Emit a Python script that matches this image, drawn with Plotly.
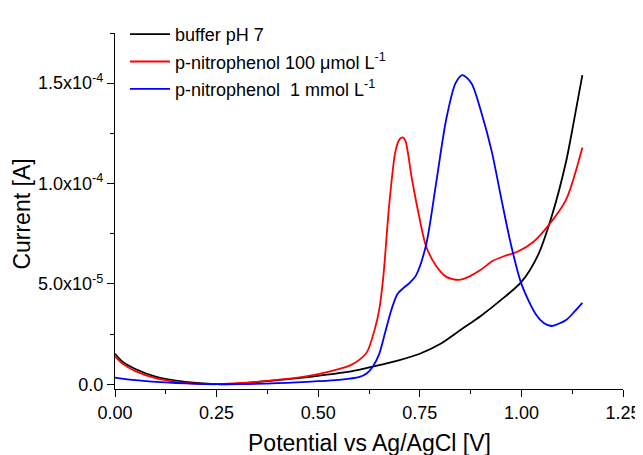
import plotly.graph_objects as go

# Data (current in units of 1e-5 A)
buffer_x = [0, 0.02, 0.05, 0.1, 0.15, 0.2, 0.25, 0.3, 0.4, 0.45, 0.5, 0.55, 0.6, 0.65, 0.7,
            0.75, 0.8, 0.85, 0.9, 0.95, 1.0, 1.04, 1.075, 1.11, 1.13, 1.15]
buffer_y = [1.52, 1.1, 0.76, 0.38, 0.18, 0.06, 0.0, 0.02, 0.2, 0.3, 0.42, 0.55, 0.72, 0.95, 1.2,
            1.52, 2.0, 2.7, 3.4, 4.2, 5.1, 6.4, 8.4, 11.1, 13.2, 15.4]

pnp100_x = [0, 0.02, 0.05, 0.1, 0.15, 0.2, 0.25, 0.3, 0.35, 0.4, 0.45, 0.5, 0.55, 0.58, 0.6,
            0.62, 0.64, 0.65, 0.66, 0.675, 0.69, 0.70, 0.708, 0.715, 0.73, 0.748, 0.765, 0.79,
            0.815, 0.846, 0.87, 0.9, 0.93, 0.96, 0.99, 1.03, 1.07, 1.11, 1.15]
pnp100_y = [1.38, 1.0, 0.65, 0.3, 0.12, 0.03, 0.0, 0.05, 0.12, 0.22, 0.33, 0.5, 0.75, 0.95, 1.2,
            1.6, 2.8, 3.7, 5.3, 9.0, 11.6, 12.2, 12.3, 12.1, 10.3, 8.4, 6.9, 5.9,
            5.35, 5.2, 5.35, 5.7, 6.15, 6.4, 6.6, 7.1, 8.0, 9.2, 11.8]

pnp1_x = [0, 0.05, 0.1, 0.15, 0.2, 0.25, 0.3, 0.4, 0.5, 0.55, 0.6, 0.62, 0.635, 0.65, 0.665,
          0.68, 0.695, 0.71, 0.725, 0.74, 0.765, 0.79, 0.815, 0.838, 0.855, 0.877, 0.902,
          0.927, 0.951, 0.975, 1.0, 1.035, 1.055, 1.074, 1.09, 1.11, 1.13, 1.15]
pnp1_y = [0.33, 0.2, 0.12, 0.06, 0.02, 0.0, 0.0, 0.05, 0.15, 0.22, 0.35, 0.55, 0.9, 1.5, 2.6,
          3.7, 4.5, 4.8, 5.05, 5.4, 6.9, 10.0, 13.2, 15.0, 15.4, 15.0, 13.5,
          11.6, 9.2, 6.9, 5.0, 3.5, 3.05, 2.9, 3.0, 3.2, 3.6, 4.05]

y_tickvals = [0, 5e-5, 1e-4, 1.5e-4]
y_ticktext = ["0.0", "5.0x10<sup>-5</sup>", "1.0x10<sup>-4</sup>", "1.5x10<sup>-4</sup>"]
x_tickvals = [0, 0.25, 0.5, 0.75, 1.0, 1.25]
x_ticktext = ["0.00", "0.25", "0.50", "0.75", "1.00", "1.25"]

names = ["buffer pH 7", "p-nitrophenol 100 \u03bcmol L<sup>-1</sup>",
         "p-nitrophenol  1 mmol L<sup>-1</sup>"]
colors = ["black", "#ff0000", "#0000ff"]

fig = go.Figure()
for i, (xs, ys, name, c) in enumerate([(buffer_x, buffer_y, names[0], colors[0]),
                                       (pnp100_x, pnp100_y, names[1], colors[1]),
                                       (pnp1_x, pnp1_y, names[2], colors[2])]):
    fig.add_trace(go.Scatter(x=xs, y=[v * 1e-5 for v in ys], mode="lines", name=name,
                             legendgroup=f"g{i}",
                             line=dict(color=c, width=1.8, shape="spline", smoothing=0.8)))

font_family = "Liberation Sans, Arial, sans-serif"
# page body has an 8px margin, margins compensate so the plot area lands where the reference's is
fig.update_layout(
    width=643, height=455,
    margin=dict(l=107, r=28, t=8, b=74),
    plot_bgcolor="white", paper_bgcolor="white",
    font=dict(family=font_family, size=18, color="black"),
    showlegend=True,
    legend=dict(x=0.0197, y=1.048, xanchor="left", yanchor="top", bgcolor="rgba(0,0,0,0)",
                font=dict(size=18), tracegroupgap=1, itemwidth=40),
    xaxis=dict(range=[0, 1.25], tickvals=x_tickvals, ticktext=x_ticktext, automargin=False,
               showgrid=False, zeroline=False, showline=True, linecolor="black", linewidth=1.2,
               ticks="outside", ticklen=7, tickcolor="black", tickwidth=1.2,
               minor=dict(ticks="outside", ticklen=4, dtick=0.125, tick0=0, tickcolor="black")),
    yaxis=dict(range=[-2.38e-6, 1.75e-4], tickvals=y_tickvals, ticktext=y_ticktext, automargin=False,
               showgrid=False, zeroline=False, showline=True, linecolor="black", linewidth=1.2,
               ticks="outside", ticklen=7, tickcolor="black", tickwidth=1.2,
               minor=dict(ticks="outside", ticklen=4, dtick=2.5e-5, tick0=0, tickcolor="black")),
    annotations=[
        dict(text="Potential vs Ag/AgCl [V]", xref="paper", yref="paper", x=0.5, y=-0.152,
             xanchor="center", yanchor="middle", showarrow=False, font=dict(size=23)),
        dict(text="Current [A]", xref="paper", yref="paper", x=-0.183, y=0.49, textangle=-90,
             xanchor="center", yanchor="middle", showarrow=False, font=dict(size=23)),
    ],
)

fig.write_html("out.html")
